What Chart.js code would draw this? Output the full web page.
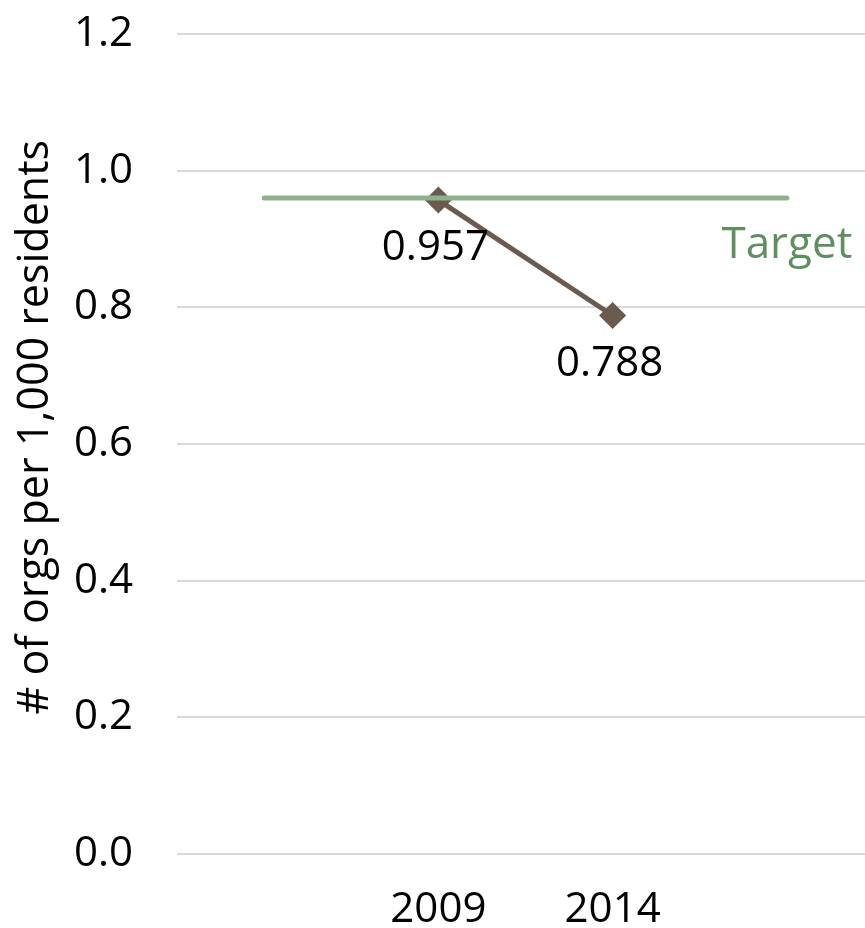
<!DOCTYPE html>
<html>
<head>
<meta charset="utf-8">
<script src="https://cdn.jsdelivr.net/npm/chart.js@4/dist/chart.umd.min.js"></script>
<style>
    html, body { margin: 0; padding: 0; background: #fff; overflow: hidden; }
    #wrap { width: 889px; height: 928px; }
</style>
</head>
<body>
<div id="wrap"><canvas id="myChart" width="889" height="928"></canvas></div>
<script>
// Chart data
const categories = ['', '2009', '2014', ''];
const orgsPer1000 = [null, 0.957, 0.788, null];
const targetValues = [0.96, 0.96, 0.96, 0.96];
const yTickValues = [0, 0.2, 0.4, 0.6, 0.8, 1.0, 1.2];
const yAxisTitle = '# of orgs per 1,000 residents';
const targetLabel = 'Target';

const FONT = "'Open Sans', sans-serif";

// Draws value labels under the points and the "Target" tag
const labelPlugin = {
    id: 'pointLabels',
    afterDatasetsDraw(chart) {
        const ctx = chart.ctx;
        ctx.save();
        ctx.font = `42px ${FONT}`;
        ctx.textAlign = 'center';
        ctx.textBaseline = 'middle';

        const seriesMeta = chart.getDatasetMeta(1);
        seriesMeta.data.forEach((pt, i) => {
            const v = orgsPer1000[i];
            if (v === null) return;
            ctx.fillStyle = '#000';
            ctx.fillText(v.toFixed(3), pt.x - 3, pt.y + 48);
        });

        const targetMeta = chart.getDatasetMeta(0);
        const last = targetMeta.data.at(-1);
        ctx.font = `44px ${FONT}`;
        ctx.fillStyle = '#5F8F5F';
        ctx.fillText(targetLabel, last.x, last.y + 47);
        ctx.restore();
    }
};

const ctx = document.getElementById('myChart').getContext('2d');
new Chart(ctx, {
    type: 'line',
    data: {
        labels: categories,
        datasets: [{
            label: 'Target',
            data: targetValues,
            borderColor: '#8EB28E',
            borderWidth: 5,
            borderCapStyle: 'round',
            pointRadius: 0,
            fill: false
        }, {
            label: 'Orgs per 1,000 residents',
            data: orgsPer1000,
            borderColor: '#6B5A4E',
            backgroundColor: '#6B5A4E',
            borderWidth: 5,
            pointStyle: 'rectRot',
            pointRadius: 10,
            pointHoverRadius: 10,
            fill: false
        }]
    },
    options: {
        responsive: false,
        animation: false,
        layout: { padding: 0 },
        plugins: {
            legend: { display: false },
            tooltip: { enabled: false }
        },
        scales: {
            x: {
                offset: true,
                grid: { display: false, drawTicks: false },
                border: { display: false },
                ticks: {
                    color: '#000',
                    font: { family: FONT, size: 42 },
                    padding: 31,
                    maxRotation: 0,
                    autoSkip: false
                },
                afterFit(scale) { scale.height = 74; }
            },
            y: {
                min: 0,
                max: 1.2,
                afterBuildTicks(scale) {
                    scale.ticks = yTickValues.map(v => ({ value: v }));
                },
                grid: { color: '#D9D9D9', lineWidth: 2, drawTicks: false },
                border: { display: false },
                ticks: {
                    color: '#000',
                    font: { family: FONT, size: 42 },
                    padding: 44,
                    callback: v => v.toFixed(1)
                },
                title: {
                    display: true,
                    // leading spaces nudge the rotated title a bit upwards
                    text: '\u00A0\u00A0\u00A0' + yAxisTitle,
                    color: '#000',
                    font: { family: FONT, size: 43 },
                    padding: { top: 10, bottom: 0 }
                },
                afterFit(scale) {
                    scale.width = 177;
                    scale.paddingTop = 34;
                    scale.paddingBottom = 0;
                }
            }
        }
    },
    plugins: [labelPlugin]
});
</script>
</body>
</html>
